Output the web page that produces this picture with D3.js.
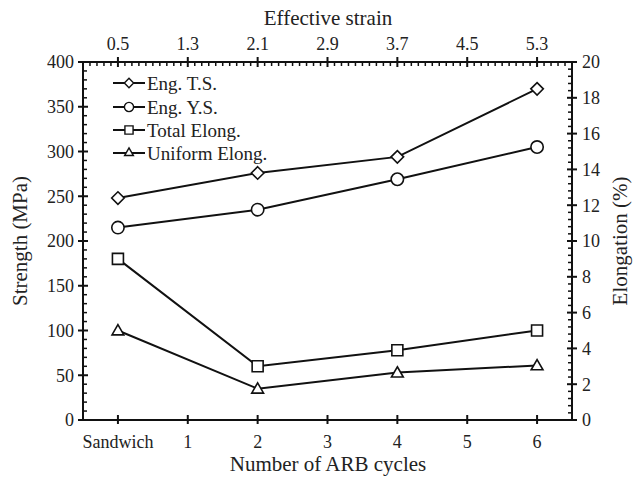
<!DOCTYPE html>
<html>
<head>
<meta charset="utf-8">
<script src="https://cdn.jsdelivr.net/npm/d3@7"></script>
<style>
  body { margin: 0; background: #fff; }
  text { font-family: "Liberation Serif", "Times New Roman", serif; fill: #222; }
</style>
</head>
<body>
<div id="chart"></div>
<script>
// categories on the bottom axis (position 0 = sandwich)
var cycles = [0, 2, 4, 6];
var bottomTicks = [0, 1, 2, 3, 4, 5, 6];
var bottomLabels = ["Sandwich", "1", "2", "3", "4", "5", "6"];
var topLabels = ["0.5", "1.3", "2.1", "2.9", "3.7", "4.5", "5.3"];

// series values
var engTS = [248, 276, 294, 370];        // MPa
var engYS = [215, 235, 269, 305];        // MPa
var totalElong = [9.0, 3.0, 3.9, 5.0];   // %
var uniformElong = [5.0, 1.75, 2.65, 3.05]; // %

var width = 638, height = 477;
// plot box edges (window.top is reserved, so use other names)
var boxL = 83, boxR = 572, boxT = 62, boxB = 420;

var svg = d3.select("#chart").append("svg")
  .attr("width", width)
  .attr("height", height);

var x = d3.scaleLinear().domain([-0.5, 6.5]).range([boxL, boxR]);
var yL = d3.scaleLinear().domain([0, 400]).range([boxB, boxT]);
var yR = d3.scaleLinear().domain([0, 20]).range([boxB, boxT]);

var black = "#111";
var tickFont = "18px";

// frame
svg.append("rect")
  .attr("x", boxL).attr("y", boxT)
  .attr("width", boxR - boxL).attr("height", boxB - boxT)
  .attr("fill", "none").attr("stroke", black).attr("stroke-width", 2);

function tick(x1, y1, x2, y2, w) {
  svg.append("line")
    .attr("x1", x1).attr("y1", y1).attr("x2", x2).attr("y2", y2)
    .attr("stroke", black).attr("stroke-width", w || 1.5);
}

// left axis
d3.range(0, 401, 10).forEach(function(v) {
  if (v % 50 === 0) tick(boxL - 5, yL(v), boxL + 5, yL(v), 2);
  else tick(boxL, yL(v), boxL + 4, yL(v));
});
svg.selectAll(".ylab").data(d3.range(0, 401, 50)).enter().append("text")
  .attr("class", "ylab")
  .attr("x", boxL - 9).attr("y", function(d) { return yL(d); })
  .attr("dy", "0.35em").attr("text-anchor", "end")
  .style("font-size", tickFont)
  .text(function(d) { return d; });

// right axis
d3.range(0, 20.01, 0.4).forEach(function(v) {
  var r = Math.round(v * 10) / 10;
  if (Math.abs(r % 2) < 1e-6) tick(boxR - 5, yR(r), boxR + 5, yR(r), 2);
  else tick(boxR - 4, yR(r), boxR, yR(r));
});
svg.selectAll(".rlab").data(d3.range(0, 21, 2)).enter().append("text")
  .attr("class", "rlab")
  .attr("x", boxR + 10).attr("y", function(d) { return yR(d); })
  .attr("dy", "0.35em").attr("text-anchor", "start")
  .style("font-size", tickFont)
  .text(function(d) { return d; });

// bottom axis
bottomTicks.forEach(function(v) { tick(x(v), boxB - 5, x(v), boxB + 4, 2); });
svg.selectAll(".xlab").data(bottomTicks).enter().append("text")
  .attr("class", "xlab")
  .attr("x", function(d) { return x(d); }).attr("y", boxB + 28)
  .attr("text-anchor", "middle")
  .style("font-size", tickFont)
  .text(function(d, i) { return bottomLabels[i]; });

// top axis with minor ticks
d3.range(-0.5, 6.51, 0.1).forEach(function(v) {
  var r = Math.round(v * 10) / 10;
  if (Math.abs(r - Math.round(r)) < 1e-6) tick(x(r), boxT - 5, x(r), boxT + 5, 2);
  else tick(x(r), boxT, x(r), boxT + 4);
});
svg.selectAll(".tlab").data(bottomTicks).enter().append("text")
  .attr("class", "tlab")
  .attr("x", function(d) { return x(d); }).attr("y", boxT - 12)
  .attr("text-anchor", "middle")
  .style("font-size", tickFont)
  .text(function(d, i) { return topLabels[i]; });

// axis titles
svg.append("text").attr("x", 328).attr("y", 25)
  .attr("text-anchor", "middle").style("font-size", "21px")
  .text("Effective strain");
svg.append("text").attr("x", 328).attr("y", 471)
  .attr("text-anchor", "middle").style("font-size", "21px")
  .text("Number of ARB cycles");
svg.append("text")
  .attr("transform", "translate(27,241) rotate(-90)")
  .attr("text-anchor", "middle").style("font-size", "21px")
  .text("Strength (MPa)");
svg.append("text")
  .attr("transform", "translate(627,241) rotate(-90)")
  .attr("text-anchor", "middle").style("font-size", "21px")
  .text("Elongation (%)");

// marker shapes
var shapes = {
  diamond: d3.symbol().type(d3.symbolDiamond2 || d3.symbolDiamond),
  circle: d3.symbol().type(d3.symbolCircle),
  square: d3.symbol().type(d3.symbolSquare),
  triangle: d3.symbol().type(d3.symbolTriangle2 || d3.symbolTriangle)
};
var sizes = { diamond: 100, circle: 120, square: 121, triangle: 100 };

var series = [
  { name: "Eng. T.S.", values: engTS, y: yL, shape: "diamond" },
  { name: "Eng. Y.S.", values: engYS, y: yL, shape: "circle" },
  { name: "Total Elong.", values: totalElong, y: yR, shape: "square" },
  { name: "Uniform Elong.", values: uniformElong, y: yR, shape: "triangle" }
];

var line = d3.line();

series.forEach(function(s) {
  var pts = s.values.map(function(v, i) { return [x(cycles[i]), s.y(v)]; });
  svg.append("path")
    .attr("d", line(pts))
    .attr("fill", "none").attr("stroke", black).attr("stroke-width", 2);
  svg.selectAll(null).data(pts).enter().append("path")
    .attr("transform", function(p) {
      var dy = s.shape === "triangle" ? 1 : 0;
      return "translate(" + p[0] + "," + (p[1] + dy) + ")";
    })
    .attr("d", shapes[s.shape].size(sizes[s.shape]))
    .attr("fill", "white").attr("stroke", black).attr("stroke-width", 1.6);
});

// legend
var legendY = [83, 107, 130, 153];
series.forEach(function(s, i) {
  var ly = legendY[i];
  tick(113, ly, 145, ly, 2);
  svg.append("path")
    .attr("transform", "translate(129," + ly + ")")
    .attr("d", shapes[s.shape].size(sizes[s.shape] * 0.55))
    .attr("fill", "white").attr("stroke", black).attr("stroke-width", 1.4);
  svg.append("text")
    .attr("x", 147).attr("y", ly).attr("dy", "0.35em")
    .style("font-size", "19px")
    .text(s.name);
});
</script>
</body>
</html>
